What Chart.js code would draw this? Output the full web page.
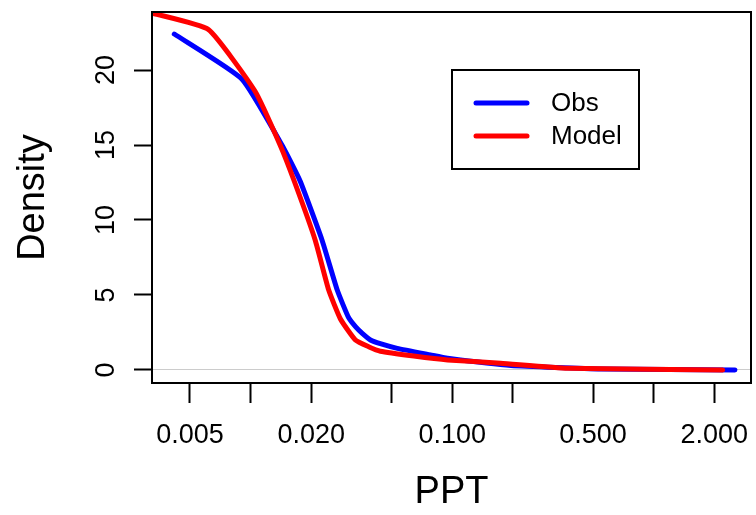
<!DOCTYPE html>
<html lang="en">
<head>
  <meta charset="UTF-8">
  <title>Density of PPT</title>
  <script src="https://cdn.jsdelivr.net/npm/chart.js"></script>
  <style>
    body { margin: 0; background: #fff; }
    #container { width: 756px; height: 515px; }
  </style>
</head>
<body>
<div id="container">
  <canvas id="densityChart" width="756" height="515"></canvas>
</div>

<script>
  // values
  const obsX = [0.00418, 0.00904, 0.0143, 0.0176, 0.0226, 0.0269, 0.0306, 0.0333, 0.0358, 0.0393, 0.0440, 0.0534, 0.0781, 0.0949, 0.196, 0.55, 2.53];
  const obsY = [22.4, 19.4, 15.0, 12.6, 8.67, 5.33, 3.5, 2.85, 2.44, 2.0, 1.75, 1.44, 1.0, 0.78, 0.3, 0.07, 0.0];

  const modelX = [0.00324, 0.00617, 0.0105, 0.0140, 0.01645, 0.0209, 0.0244, 0.0279, 0.0331, 0.0385, 0.0440, 0.0645, 0.0949, 0.174, 0.374, 2.2];
  const modelY = [23.8, 22.7, 18.6, 15.0, 12.6, 8.67, 5.33, 3.4, 2.0, 1.55, 1.25, 0.93, 0.67, 0.45, 0.11, 0.0];

  const xTicks = [0.005, 0.01, 0.02, 0.05, 0.1, 0.2, 0.5, 1, 2];
  const xTickLabels = ['0.005', '', '0.020', '', '0.100', '', '0.500', '', '2.000'];
  const yTicks = [0, 5, 10, 15, 20];

  const fontFamily = '"Liberation Sans", Arial, Helvetica, sans-serif';

  function toPoints(xs, ys) {
    return xs.map((x, i) => ({ x: x, y: ys[i] }));
  }

  // box around plot + legend inside the plot
  const boxAndLegend = {
    id: 'boxAndLegend',
    afterDraw(chart) {
      const ctx = chart.ctx;
      const a = chart.chartArea;
      ctx.save();
      ctx.strokeStyle = '#000';
      ctx.lineWidth = 2;
      ctx.strokeRect(a.left, a.top, a.right - a.left, a.bottom - a.top);

      // legend
      const lx = 452, ly = 70, lw = 187, lh = 99;
      ctx.fillStyle = '#fff';
      ctx.fillRect(lx, ly, lw, lh);
      ctx.strokeRect(lx, ly, lw, lh);
      ctx.font = '26px ' + fontFamily;
      ctx.textBaseline = 'middle';
      ctx.textAlign = 'left';
      chart.data.datasets.forEach((ds, i) => {
        const y = 103 + i * 33;
        ctx.strokeStyle = ds.borderColor;
        ctx.lineWidth = 5;
        ctx.lineCap = 'round';
        ctx.beginPath();
        ctx.moveTo(476, y);
        ctx.lineTo(527, y);
        ctx.stroke();
        ctx.fillStyle = '#000';
        ctx.fillText(ds.label, 551, y + 1);
      });
      ctx.restore();
    }
  };

  new Chart(document.getElementById('densityChart'), {
    type: 'line',
    data: {
      datasets: [
        {
          label: 'Obs',
          data: toPoints(obsX, obsY),
          borderColor: '#0000ff',
          borderWidth: 5,
          pointRadius: 0,
          tension: 0.15,
          borderCapStyle: 'round',
          borderJoinStyle: 'round',
          order: 1
        },
        {
          label: 'Model',
          data: toPoints(modelX, modelY),
          borderColor: '#ff0000',
          borderWidth: 5,
          pointRadius: 0,
          tension: 0.15,
          borderCapStyle: 'round',
          borderJoinStyle: 'round',
          order: 0
        }
      ]
    },
    options: {
      responsive: false,
      animation: false,
      devicePixelRatio: 1,
      layout: { padding: { left: 0, top: 12, right: 5, bottom: 0 } },
      plugins: {
        legend: { display: false },
        tooltip: { enabled: false }
      },
      scales: {
        x: {
          type: 'logarithmic',
          min: 0.00324,
          max: 3.04,
          afterBuildTicks(scale) {
            scale.ticks = xTicks.map(v => ({ value: v }));
          },
          afterFit(scale) {
            scale.height = 132;
            scale.paddingLeft = 0;
            scale.paddingRight = 0;
          },
          grid: {
            drawOnChartArea: false,
            drawTicks: true,
            tickLength: 20,
            tickColor: '#000',
            tickWidth: 2
          },
          border: { display: true, color: '#000', width: 2 },
          ticks: {
            autoSkip: false,
            maxRotation: 0,
            minRotation: 0,
            padding: 19,
            color: '#000',
            font: { family: fontFamily, size: 27, lineHeight: 1 },
            callback: (v) => xTickLabels[xTicks.indexOf(v)] ?? ''
          },
          title: {
            display: true,
            text: 'PPT',
            color: '#000',
            font: { family: fontFamily, size: 38, lineHeight: 1 },
            padding: { top: 0, bottom: 3 }
          }
        },
        y: {
          min: -0.87,
          max: 23.87,
          afterBuildTicks(scale) {
            scale.ticks = yTicks.map(v => ({ value: v }));
          },
          afterFit(scale) {
            scale.width = 152;
            scale.paddingTop = 0;
            scale.paddingBottom = 0;
          },
          grid: {
            drawOnChartArea: true,
            drawTicks: true,
            tickLength: 18,
            color: ctx => (ctx.tick && ctx.tick.value === 0) ? '#cccccc' : 'rgba(0,0,0,0)',
            lineWidth: 1,
            tickColor: '#000',
            tickWidth: 2
          },
          border: { display: true, color: '#000', width: 2 },
          ticks: {
            minRotation: 90,
            maxRotation: 90,
            crossAlign: 'center',
            padding: 12,
            color: '#000',
            font: { family: fontFamily, size: 27, lineHeight: 1 }
          },
          title: {
            display: true,
            text: 'Density',
            color: '#000',
            font: { family: fontFamily, size: 38, lineHeight: 1 },
            padding: { top: 15, bottom: 0 }
          }
        }
      }
    },
    plugins: [boxAndLegend]
  });
</script>
</body>
</html>
